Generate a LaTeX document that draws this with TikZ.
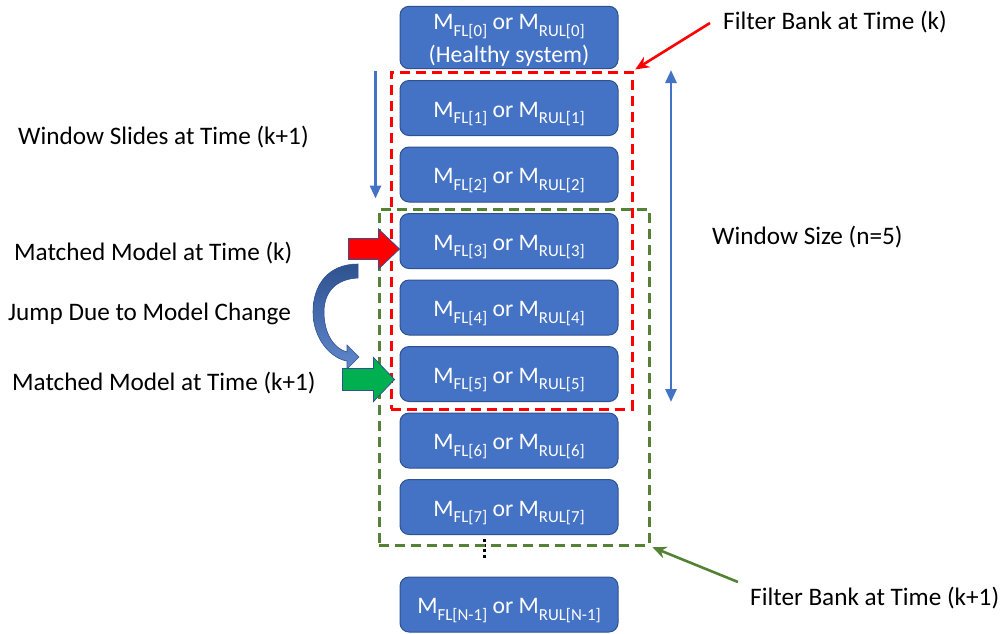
\documentclass[tikz,border=0pt]{standalone}
\usepackage{fontspec}
\setmainfont{Carlito}
\usetikzlibrary{arrows.meta, calc, positioning}
\definecolor{boxblue}{HTML}{4472C4}
\definecolor{boxedge}{HTML}{2F528F}
\definecolor{bankgreen}{HTML}{548235}
\definecolor{matchgreen}{HTML}{00B050}
\newcommand{\sub}[1]{\raisebox{-6.5pt}{\fontsize{16.8}{17}\selectfont #1}}
\newcommand{\mfl}[1]{M\sub{FL[#1]} or M\sub{RUL[#1]}}
\tikzset{
	tri/.tip={Triangle[width=11pt, length=13pt]},
	% filter model boxes
	model/.style={draw=boxedge, line width=1pt, fill=boxblue, rounded corners=9pt,
		minimum width=218pt, minimum height=55pt, text=white, align=center, inner sep=0pt,
		font=\fontsize{23.7}{31}\selectfont},
	oneline/.style={model, text height=24pt, text depth=5.5pt},
	% dashed filter bank windows
	bank/.style={draw=#1, line width=3pt, dash pattern=on 10pt off 6pt, inner sep=0pt},
	note/.style={anchor=west, inner sep=0pt, text=black},
	pointer/.style={line width=2.6pt, -{Stealth[length=14pt, width=12pt]}, shorten >=2pt}
}
\begin{document}
\begin{tikzpicture}[x=1pt, y=-1pt, font=\fontsize{25.2}{30}\selectfont]
	\useasboundingbox (0,0) rectangle (1001,633);
	
	% Models
	\node[model, minimum height=61pt] (m0) at (509,37.5)
		{\rule{0pt}{23.4pt}\mfl{0}\\[2pt](Healthy system)\rule[-6pt]{0pt}{0pt}};
	\foreach \i in {1,...,7}{
		\node[oneline] (m\i) at (509,{108+(\i-1)*66.5}) {\mfl{\i}};
	}
	\node[oneline] (mN) at (509,604.5) {\mfl{N-1}};
	\draw[line width=3pt, dash pattern=on 3pt off 2.2pt] (484,539) -- (484,559);
	
	% Windows at k and k+1
	\node[bank=bankgreen, minimum width=270pt, minimum height=336pt] (winkk) at (514,377) {};
	\node[bank=red, minimum width=241pt, minimum height=337pt] (wink) at (511.5,240.5) {};
	
	% Texts
	\node[note] (bankk) at (723,22) {Filter Bank at Time (k)};
	\node[note] (slide) at (18,137) {Window Slides at Time (k+1)};
	\node[note] (size) at (712,237) {Window Size (n=5)};
	\node[note] (matchk) at (14,253) {Matched Model at Time (k)};
	\node[note] (jump) at (8,314) {Jump Due to Model Change};
	\node[note] (matchkk) at (12,383) {Matched Model at Time (k+1)};
	\node[note] (bankkk) at (750,598) {Filter Bank at Time (k+1)};
	
	\draw[pointer, red] ($(bankk.west)+(-13,1)$) -- (wink.north east);
	\draw[pointer, bankgreen] ($(bankkk.west)+(-12,-16)$) -- (winkk.south east);
	
	% Slide and size arrows
	\draw[boxblue, line width=2.8pt, -tri] ($(wink.north west)+(-14,0)$) -- ++(0,128);
	\draw[boxblue, line width=2.8pt, tri-tri] (671,70) -- (671,402);
	
	% Matched model markers
	\draw[boxedge, line width=0.8pt, fill=red] ($(m3.west)+(0,8)$) -- ++(-21,-20) -- ++(0,9.5)
		-- ++(-30,0) -- ++(0,21) -- ++(30,0) -- ++(0,9.5) -- cycle;
	\draw[boxedge, line width=0.8pt, fill=matchgreen] ($(m5.west)+(-5,5.5)$) -- ++(-21,-22) -- ++(0,11)
		-- ++(-31,0) -- ++(0,22) -- ++(31,0) -- ++(0,11) -- cycle;
	
	% Jump
	\shade[top color=boxedge, bottom color=boxblue!85!white, draw=boxedge, line width=0.6pt]
		(358,264) .. controls (328,264) and (313,285) .. (313,312)
		.. controls (313,338) and (330,358) .. (347,361) -- (347,369) -- (359,357) -- (347,345)
		-- (347,352) .. controls (335,349) and (324,335) .. (324,312)
		.. controls (324,292) and (336,279) .. (358,278) -- cycle;
\end{tikzpicture}
\end{document}
